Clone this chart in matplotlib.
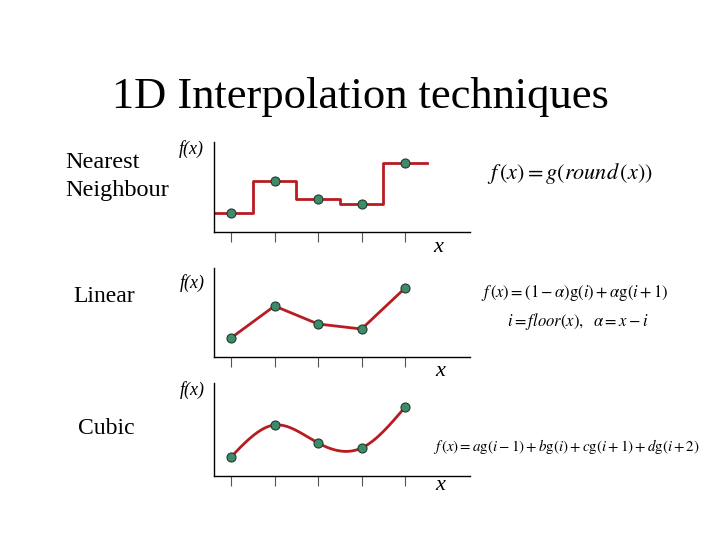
import numpy as np
import matplotlib
matplotlib.use('Agg')
import matplotlib.pyplot as plt

plt.rcParams['font.family'] = 'Liberation Serif'
plt.rcParams['mathtext.fontset'] = 'stix'

# sample values g(i), same samples shown in all three panels
xi = [0, 1, 2, 3, 4]
g = [19, 51, 33, 28, 69]

W, H = 720, 540

def px_axes(fig, left, top, right, bottom):
    return fig.add_axes([left / W, 1 - bottom / H, (right - left) / W, (bottom - top) / H])

def txt(fig, x, y, s, **kw):
    fig.text(x / W, 1 - y / H, s, **kw)

def natural_spline(x, y, xs):
    x = np.asarray(x, float); y = np.asarray(y, float)
    n = len(x)
    h = np.diff(x)
    A = np.zeros((n, n)); b = np.zeros(n)
    A[0, 0] = A[-1, -1] = 1
    for k in range(1, n - 1):
        A[k, k - 1] = h[k - 1]
        A[k, k] = 2 * (h[k - 1] + h[k])
        A[k, k + 1] = h[k]
        b[k] = 6 * ((y[k + 1] - y[k]) / h[k] - (y[k] - y[k - 1]) / h[k - 1])
    M = np.linalg.solve(A, b)
    out = []
    for v in xs:
        k = min(max(np.searchsorted(x, v) - 1, 0), n - 2)
        t1 = x[k + 1] - v; t0 = v - x[k]
        out.append(M[k] * t1**3 / (6 * h[k]) + M[k + 1] * t0**3 / (6 * h[k])
                   + (y[k] / h[k] - M[k] * h[k] / 6) * t1
                   + (y[k + 1] / h[k] - M[k + 1] * h[k] / 6) * t0)
    return np.array(out)

fig = plt.figure(figsize=(7.2, 5.4), dpi=100)

line_c = '#b81c22'
pt_c = '#3f8a68'

def setup(ax, height):
    ax.set_xlim(-0.39, 5.49)
    ax.set_ylim(0, height)
    for s in ['top', 'right']:
        ax.spines[s].set_visible(False)
    ax.spines['left'].set_linewidth(1)
    ax.spines['bottom'].set_linewidth(1)
    ax.set_xticks(xi)
    ax.set_xticklabels([])
    ax.set_yticks([])
    ax.tick_params(axis='x', direction='out', length=7, width=0.8, color='#555555')
    ax.patch.set_alpha(0)

# nearest neighbour
ax1 = px_axes(fig, 214, 142, 470, 232)
setup(ax1, 90)
xs = [-0.4] + xi + [4.5]
ys = [g[0]] + g + [g[-1]]
ax1.step(xs, ys, where='mid', color=line_c, lw=2)
ax1.plot(xi, g, 'o', ms=6.5, mfc=pt_c, mec='#1e3d2e', mew=0.8, zorder=5)

# linear
ax2 = px_axes(fig, 214, 268, 470, 357)
setup(ax2, 89)
ax2.plot(xi, g, color=line_c, lw=2)
ax2.plot(xi, g, 'o', ms=6.5, mfc=pt_c, mec='#1e3d2e', mew=0.8, zorder=5)

# cubic
ax3 = px_axes(fig, 214, 383, 470, 476)
setup(ax3, 93)
xx = np.linspace(0, 4, 200)
ax3.plot(xx, natural_spline(xi, g, xx), color=line_c, lw=2)
ax3.plot(xi, g, 'o', ms=6.5, mfc=pt_c, mec='#1e3d2e', mew=0.8, zorder=5)

# title and labels
txt(fig, 360, 97, '1D Interpolation techniques', fontsize=32, ha='center', va='center')
txt(fig, 65, 162, 'Nearest', fontsize=17.5, ha='left', va='center')
txt(fig, 65, 191, 'Neighbour', fontsize=17.5, ha='left', va='center')
txt(fig, 73, 297, 'Linear', fontsize=17, ha='left', va='center')
txt(fig, 78, 428, 'Cubic', fontsize=17, ha='left', va='center')

for (fx, fy) in [(191, 149), (192, 283), (192, 390)]:
    txt(fig, fx, fy, 'f(x)', fontsize=13, style='italic', ha='center', va='center')
for (lx, ly) in [(438, 247), (440, 371), (440, 486)]:
    txt(fig, lx, ly, 'x', fontsize=16, style='italic', ha='center', va='center')

txt(fig, 570, 173, r'$f\,(x) = g(round\,(x))$', fontsize=16, ha='center', va='center')
txt(fig, 575, 293, r'$f\,(x) = (1-\alpha)\mathrm{g}(i) + \alpha\mathrm{g}(i+1)$', fontsize=12, ha='center', va='center')
txt(fig, 578, 322, r'$i = floor(x),\ \ \alpha = x - i$', fontsize=12, ha='center', va='center')
txt(fig, 566, 446, r'$f\,(x) = a\mathrm{g}(i-1) + b\mathrm{g}(i) + c\mathrm{g}(i+1) + d\mathrm{g}(i+2)$', fontsize=10.8, ha='center', va='center')

fig.savefig('out.png', dpi=100, facecolor='white')
